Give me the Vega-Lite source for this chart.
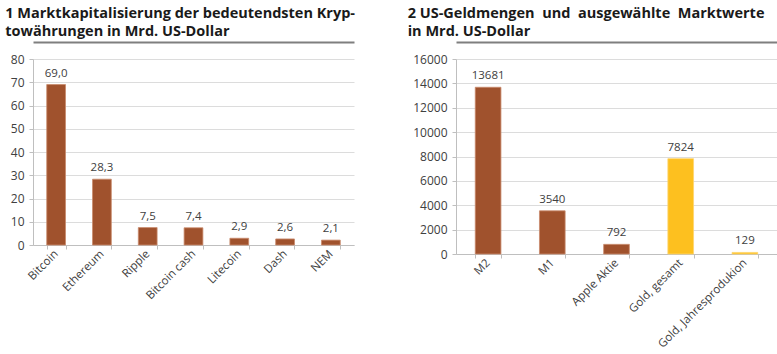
{
  "$schema": "https://vega.github.io/schema/vega-lite/v6.json",
  "padding": {"left": 5, "top": 5, "right": 3, "bottom": 0},
  "background": "white",
  "config": {
    "locale": {"number": {"decimal": ",", "thousands": ".", "grouping": [3], "currency": ["", " €"]}},
    "font": "Open Sans",
    "view": {"stroke": null},
    "axis": {"labelFont": "Open Sans", "labelFontSize": 12, "labelColor": "#404040", "domainColor": "#bfbfbf", "tickColor": "#bfbfbf", "gridColor": "#dcdcdc", "tickSize": 4},
    "title": {"font": "Open Sans", "fontSize": 14.5, "fontWeight": "bold", "color": "#1a1a1a", "anchor": "start", "frame": "bounds", "lineHeight": 18, "dx": -5, "offset": 3},
    "concat": {"spacing": 51}
  },
  "datasets": {
    "krypto": [
      {"name": "Bitcoin", "wert": 69.0},
      {"name": "Ethereum", "wert": 28.3},
      {"name": "Ripple", "wert": 7.5},
      {"name": "Bitcoin cash", "wert": 7.4},
      {"name": "Litecoin", "wert": 2.9},
      {"name": "Dash", "wert": 2.6},
      {"name": "NEM", "wert": 2.1}
    ],
    "geld": [
      {"name": "M2", "wert": 13681, "gruppe": "Geld"},
      {"name": "M1", "wert": 3540, "gruppe": "Geld"},
      {"name": "Apple Aktie", "wert": 792, "gruppe": "Geld"},
      {"name": "Gold, gesamt", "wert": 7824, "gruppe": "Gold"},
      {"name": "Gold, Jahresprodukion", "wert": 129, "gruppe": "Gold"}
    ]
  },
  "hconcat": [
    {
      "width": 321,
      "height": 186,
      "title": {"text": ["1 Marktkapitalisierung der bedeutendsten Kryp-", "towährungen in Mrd. US-Dollar"]},
      "data": {"name": "krypto"},
      "encoding": {
        "x": {"field": "name", "type": "nominal", "sort": null,
              "scale": {"paddingInner": 0.59, "paddingOuter": 0.3},
              "axis": {"title": null, "labelAngle": -45, "labelAlign": "right", "labelBaseline": "middle", "tickBand": "extent", "labelPadding": 3, "labelFontSize": 11.5}},
        "y": {"field": "wert", "type": "quantitative",
              "scale": {"domain": [0, 80], "nice": false},
              "axis": {"title": null, "values": [0, 10, 20, 30, 40, 50, 60, 70, 80], "labelPadding": 5}}
      },
      "layer": [
        {"mark": {"type": "bar", "color": "#a0522d", "stroke": "#c98a6c", "strokeWidth": 0.8}},
        {"mark": {"type": "text", "baseline": "bottom", "dy": -6, "fontSize": 11.5, "color": "#404040"},
         "encoding": {"text": {"field": "wert", "type": "quantitative", "format": ".1f"},
                      "x": {"field": "name", "type": "nominal", "sort": null,
                            "axis": {"orient": "top", "offset": 17, "title": null, "labels": false, "ticks": false, "grid": false, "domainColor": "#7f7f7f", "domainWidth": 2}}}}
      ],
      "resolve": {"axis": {"x": "independent"}}
    },
    {
      "width": 321,
      "height": 195,
      "title": {"text": ["2 US-Geldmengen\u00a0 und\u00a0 ausgewählte\u00a0 Marktwerte", "in Mrd. US-Dollar"]},
      "data": {"name": "geld"},
      "encoding": {
        "x": {"field": "name", "type": "nominal", "sort": null,
              "scale": {"paddingInner": 0.6, "paddingOuter": 0.3},
              "axis": {"title": null, "labelAngle": -45, "labelAlign": "right", "labelBaseline": "middle", "tickBand": "extent", "labelPadding": 3, "labelFontSize": 11.5}},
        "y": {"field": "wert", "type": "quantitative",
              "scale": {"domain": [0, 16000], "nice": false},
              "axis": {"title": null, "values": [0, 2000, 4000, 6000, 8000, 10000, 12000, 14000, 16000], "format": "d", "labelPadding": 5}}
      },
      "layer": [
        {"mark": {"type": "bar", "strokeWidth": 0.8},
         "encoding": {
           "color": {"field": "gruppe", "type": "nominal", "scale": {"domain": ["Geld", "Gold"], "range": ["#a0522d", "#fdc01f"]}, "legend": null},
           "stroke": {"field": "gruppe", "type": "nominal", "scale": {"domain": ["Geld", "Gold"], "range": ["#c98a6c", "#fed670"]}, "legend": null}
         }},
        {"mark": {"type": "text", "baseline": "bottom", "dy": -6, "fontSize": 11.5, "color": "#404040"},
         "encoding": {"text": {"field": "wert", "type": "quantitative", "format": "d"},
                      "x": {"field": "name", "type": "nominal", "sort": null,
                            "axis": {"orient": "top", "offset": 17, "title": null, "labels": false, "ticks": false, "grid": false, "domainColor": "#7f7f7f", "domainWidth": 2}}}}
      ],
      "resolve": {"axis": {"x": "independent"}}
    }
  ]
}
